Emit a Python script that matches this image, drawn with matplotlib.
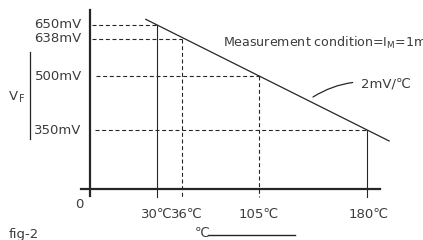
import numpy as np
import matplotlib
matplotlib.use('Agg')
import matplotlib.pyplot as plt
from matplotlib.lines import Line2D

plt.rcParams['font.family'] = ['DejaVu Sans', 'Noto Sans CJK SC']
plt.rcParams['mathtext.fontset'] = 'dejavusans'

# points on the VF characteristic
temps = [30, 36, 105, 180]
volts = [650, 638, 500, 350]
temp_labels = ['30℃', '36℃', '105℃', '180℃']
volt_labels = ['650mV', '638mV', '500mV', '350mV']
solid_drop = [True, False, False, True]

# the slope line (2mV/℃), a bit beyond the marked points
line_T = [25, 212.5]
line_V = [660, 285]

TEXT = '#3c3c3c'
INK = '#262626'
W, H = 423, 240

# the drawing is schematic: temperature / voltage -> pixel position, piecewise
x_anchor_T = [0, 30, 36, 105, 180, 250]
x_anchor_px = [89.5, 157, 182, 259, 367, 414.6]
y_anchor_V = [0, 350, 500, 638, 650, 700]
y_anchor_px = [51, 110, 164, 201, 215.5, 241.5]


def pw(v, xp, fp):
    v = np.asarray(v, dtype=float)
    out = np.interp(v, xp, fp)
    lo = fp[0] + (v - xp[0]) * (fp[1] - fp[0]) / (xp[1] - xp[0])
    hi = fp[-1] + (v - xp[-1]) * (fp[-1] - fp[-2]) / (xp[-1] - xp[-2])
    out = np.where(v < xp[0], lo, out)
    out = np.where(v > xp[-1], hi, out)
    return out


fx = lambda v: pw(v, x_anchor_T, x_anchor_px)
ix = lambda v: pw(v, x_anchor_px, x_anchor_T)
fy = lambda v: pw(v, y_anchor_V, y_anchor_px)
iy = lambda v: pw(v, y_anchor_px, y_anchor_V)

fig = plt.figure(figsize=(W / 100, H / 100), dpi=100)
ax = fig.add_axes([0, 0, 1, 1])
ax.set_xscale('function', functions=(fx, ix))
ax.set_yscale('function', functions=(fy, iy))
ax.set_xlim(float(ix(0)), float(ix(W)))
ax.set_ylim(float(iy(0)), float(iy(H)))
ax.patch.set_visible(False)

# axes lines
for s in ['top', 'right']:
    ax.spines[s].set_visible(False)
ax.spines['left'].set_position(('data', 0))
ax.spines['bottom'].set_position(('data', 0))
ax.spines['left'].set_bounds(-41, 678)
ax.spines['bottom'].set_bounds(-3.8, 199)
for s in ['left', 'bottom']:
    ax.spines[s].set_linewidth(1.6)
    ax.spines[s].set_color(INK)
ax.set_xticks([])
ax.set_yticks([])
ax.minorticks_off()

# characteristic line
ax.plot(line_T, line_V, color=INK, lw=0.9)

# guide lines
dash = (0, (3.6, 2.4))
h_start = [1.1, 1.1, 2.9, 2.5]
for t, v, hs, solid in zip(temps, volts, h_start, solid_drop):
    ax.plot([hs, t], [v, v], color=INK, lw=0.8, linestyle=dash)
    ax.plot([t, t], [v, -45], color=INK, lw=0.8,
            linestyle='-' if solid else dash)

# labels
for v, lbl in zip(volts, volt_labels):
    ax.annotate(lbl, (0, v), xytext=(-5.6, 0), textcoords='offset points',
                ha='right', va='center', fontsize=9.5, color=TEXT)
x_shift = [0, 3.5, 0, 1.0]
for t, lbl, dx in zip(temps, temp_labels, x_shift):
    ax.annotate(lbl, (t, 0), xytext=(dx, -18.5), textcoords='offset points',
                ha='center', va='center', fontsize=9.5, color=TEXT)
ax.annotate('0', (0, 0), xytext=(-7.5, -11), textcoords='offset points',
            ha='center', va='center', fontsize=9.5, color=TEXT)

# VF with side line
fig.text(8.5 / W, 1 - 97 / H, 'V', ha='left', va='center', fontsize=9.5, color=TEXT)
fig.text(18.5 / W, 1 - 98.5 / H, 'F', ha='left', va='center', fontsize=7, color=TEXT)
fig.add_artist(Line2D([30 / W, 30 / W], [1 - 52 / H, 1 - 139 / H],
                      color=INK, lw=0.9))

fig.text(223 / W, 1 - 43 / H, r'Measurement condition=I$_{\mathregular{M}}$=1mA',
         ha='left', va='center', fontsize=9.1, color=TEXT)

ax.annotate('2mV/℃', xy=(313, H - 97), xycoords='figure pixels',
            xytext=(361, H - 84), textcoords='figure pixels',
            ha='left', va='center', fontsize=9.5, color=TEXT,
            arrowprops=dict(arrowstyle='-', color=INK, lw=0.9,
                            connectionstyle='arc3,rad=0.2',
                            shrinkA=4, shrinkB=0))

fig.text(9 / W, 1 - 228 / H, 'fig-2', ha='left', va='top', fontsize=9.5, color=TEXT)
fig.text(195 / W, 1 - 233 / H, '℃', ha='left', va='center', fontsize=9.5, color=TEXT)
fig.add_artist(Line2D([208 / W, 295 / W], [1 - 235 / H, 1 - 235 / H],
                      color=INK, lw=1.0))

fig.savefig('out.png', dpi=100)
